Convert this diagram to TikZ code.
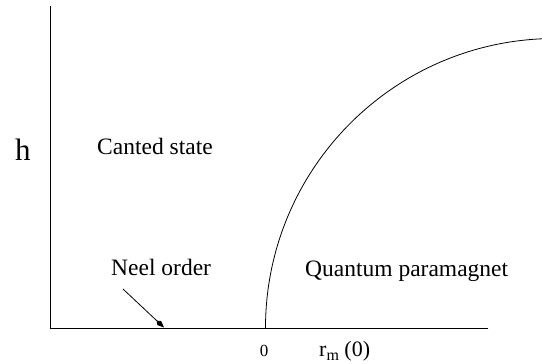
\documentclass[tikz,border=0pt]{standalone}
\usepackage{fontspec}
\setmainfont{Liberation Serif}
\usetikzlibrary{arrows.meta}
\begin{document}
\begin{tikzpicture}[x=1pt,y=-1pt,
  axis/.style={line width=0.9pt,line cap=rect},
  lbl/.style={inner sep=0pt,anchor=base west,font=\fontsize{23.5}{26}\selectfont},
  pointer/.style={line width=0.8pt,-{Kite[length=10pt,width=5.5pt,inset=3.5pt]}}]
\useasboundingbox (0,0) rectangle (542,364);
\coordinate (top) at (50,6);
\coordinate (origin) at (50,328);
\coordinate (xend) at (488,328);
\coordinate (crit) at (265.5,328);
\draw[axis] (top) -- (origin) -- (xend);
\begin{scope}
\clip (0,0) rectangle (542,364);
\draw[line width=0.8pt] (crit) arc[start angle=180,end angle=268,radius=289.5];
\end{scope}
\node[inner sep=0pt,anchor=base,font=\fontsize{31}{34}\selectfont] (h) at (23,160) {h};
\node[lbl] (canted) at (97,154) {Canted state};
\node[lbl] (neel) at (111,275) {Neel order};
\node[lbl] (qp) at (305,276) {Quantum paramagnet};
\node[inner sep=0pt,anchor=base,font=\fontsize{17}{19}\selectfont] (zero) at (264,356) {0};
\node[inner sep=0pt,anchor=base west,font=\fontsize{22}{24}\selectfont] (rm) at (319,356) {r\raisebox{-4.5pt}{\fontsize{16}{17}\selectfont m} (0)};
\coordinate (ptail) at (123,289);
\coordinate (phead) at (164,327.5);
\draw[pointer] (ptail) -- (phead);
\end{tikzpicture}
\end{document}
